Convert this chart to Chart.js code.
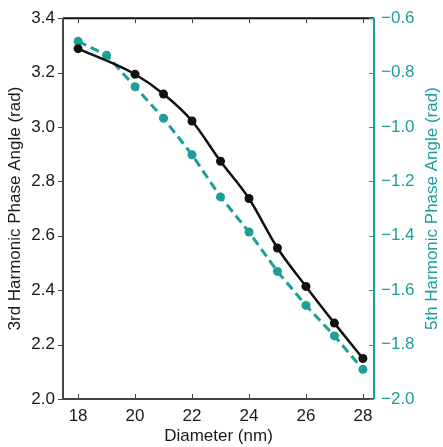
<!DOCTYPE html>
<html>
<head>
<meta charset="utf-8">
<script src="https://cdn.jsdelivr.net/npm/chart.js@4.4.1/dist/chart.umd.min.js"></script>
<style>
  html, body { margin: 0; padding: 0; background: #fff; }
</style>
</head>
<body>
<canvas id="chart" width="443" height="447"></canvas>
<script>
// data
var diam3rd = [18, 20, 21, 22, 23, 24, 25, 26, 27, 28];
var phase3rd = [3.288, 3.194, 3.121, 3.022, 2.874, 2.737, 2.555, 2.414, 2.279, 2.149];
var diam5th = [18, 19, 20, 21, 22, 23, 24, 25, 26, 27, 28];
var phase5th = [-0.685, -0.736, -0.852, -0.968, -1.102, -1.257, -1.386, -1.531, -1.656, -1.768, -1.891];
var xTicks = [18, 20, 22, 24, 26, 28];

var TEAL = '#1c9e9a';
var FONT = 'Liberation Sans, Arial, Helvetica, sans-serif';

function pts(xs, ys) {
    return xs.map(function (x, i) { return { x: x, y: ys[i] }; });
}

// spines and small tick marks, the way the figure has them
var frame = {
    id: 'frame',
    beforeDatasetsDraw: function (chart) {
        var ctx = chart.ctx, a = chart.chartArea;
        var sx = chart.scales.x, yl = chart.scales.y, yr = chart.scales.y2;
        ctx.save();
        ctx.lineWidth = 2;
        // top spine
        ctx.strokeStyle = '#111';
        ctx.beginPath(); ctx.moveTo(a.left, a.top); ctx.lineTo(a.right, a.top); ctx.stroke();
        // left + bottom
        ctx.strokeStyle = '#444';
        ctx.beginPath(); ctx.moveTo(a.left, a.top); ctx.lineTo(a.left, a.bottom); ctx.lineTo(a.right, a.bottom); ctx.stroke();
        // right spine teal
        ctx.strokeStyle = TEAL;
        ctx.beginPath(); ctx.moveTo(a.right, a.top); ctx.lineTo(a.right, a.bottom); ctx.stroke();

        ctx.lineWidth = 1;
        ctx.strokeStyle = '#444';
        xTicks.forEach(function (v) {
            var px = Math.round(sx.getPixelForValue(v)) + 0.5;
            ctx.beginPath(); ctx.moveTo(px, a.bottom); ctx.lineTo(px, a.bottom - 5); ctx.stroke();
            ctx.beginPath(); ctx.moveTo(px, a.top); ctx.lineTo(px, a.top + 5); ctx.stroke();
        });
        yl.ticks.forEach(function (t) {
            var py = Math.round(yl.getPixelForValue(t.value)) + 0.5;
            ctx.beginPath(); ctx.moveTo(a.left, py); ctx.lineTo(a.left - 5, py); ctx.stroke();
        });
        ctx.strokeStyle = TEAL;
        yr.ticks.forEach(function (t) {
            var py = Math.round(yr.getPixelForValue(t.value)) + 0.5;
            ctx.beginPath(); ctx.moveTo(a.right, py); ctx.lineTo(a.right - 5, py); ctx.stroke();
        });

        // right axis title, reading bottom to top
        ctx.fillStyle = TEAL;
        ctx.font = '17px ' + FONT;
        ctx.textAlign = 'center';
        ctx.textBaseline = 'middle';
        ctx.translate(432, (a.top + a.bottom) / 2);
        ctx.rotate(-Math.PI / 2);
        ctx.fillText('5th Harmonic Phase Angle (rad)', 0, 0);
        ctx.restore();
    }
};

var minus = function (v) { return (v < 0 ? '\u2212' : '') + Math.abs(v).toFixed(1); };

new Chart(document.getElementById('chart'), {
    type: 'line',
    data: {
        datasets: [
            {
                label: '3rd',
                data: pts(diam3rd, phase3rd),
                yAxisID: 'y',
                borderColor: '#111',
                backgroundColor: '#111',
                borderWidth: 2.5,
                pointRadius: 4.5,
                pointBorderWidth: 0,
                cubicInterpolationMode: 'monotone'
            },
            {
                label: '5th',
                data: pts(diam5th, phase5th),
                yAxisID: 'y2',
                borderColor: TEAL,
                backgroundColor: TEAL,
                borderWidth: 3,
                borderDash: [9, 5],
                pointRadius: 4.5,
                pointBorderWidth: 0,
                tension: 0
            }
        ]
    },
    options: {
        responsive: false,
        animation: false,
        layout: { padding: { top: 16, right: 0, left: 0, bottom: 0 } },
        plugins: { legend: { display: false }, tooltip: { enabled: false } },
        scales: {
            x: {
                type: 'linear',
                min: 17.47,
                max: 28.39,
                grid: { display: false, drawTicks: false },
                border: { display: false },
                afterBuildTicks: function (s) { s.ticks = xTicks.map(function (v) { return { value: v }; }); },
                afterFit: function (s) { s.height = 48; },
                ticks: { color: '#1a1a1a', font: { family: FONT, size: 17 }, padding: 7, maxRotation: 0 },
                title: { display: true, text: 'Diameter (nm)', color: '#1a1a1a', font: { family: FONT, size: 17 }, padding: { top: 0, bottom: 0 } }
            },
            y: {
                position: 'left',
                min: 2.0,
                max: 3.4,
                grid: { display: false, drawTicks: false },
                border: { display: false },
                afterFit: function (s) { s.width = 63; },
                ticks: { stepSize: 0.2, color: '#1a1a1a', font: { family: FONT, size: 17 }, padding: 8,
                         callback: function (v) { return v.toFixed(1); } },
                title: { display: true, text: '3rd Harmonic Phase Angle (rad)', color: '#1a1a1a', font: { family: FONT, size: 17 }, padding: { top: 5, bottom: 2 } }
            },
            y2: {
                position: 'right',
                min: -2.0,
                max: -0.6,
                grid: { display: false, drawTicks: false },
                border: { display: false },
                afterFit: function (s) { s.width = 69; },
                ticks: { stepSize: 0.2, color: TEAL, font: { family: FONT, size: 17 }, padding: 7, callback: minus }
            }
        }
    },
    plugins: [frame]
});
</script>
</body>
</html>
